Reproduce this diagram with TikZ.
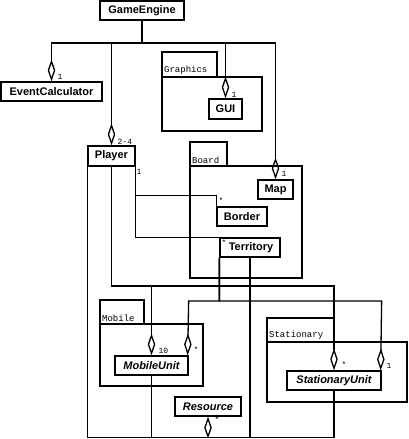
\documentclass[tikz,border=0pt]{standalone}
\usepackage{fontspec}
\setsansfont{Liberation Sans}
\setmonofont{Liberation Mono}
\usetikzlibrary{arrows.meta}
\begin{document}
\begin{tikzpicture}[x=1pt,y=-1pt,line width=1.3pt,
  cls/.style={draw,fill=white,inner sep=0pt,minimum height=19pt,font=\sffamily\bfseries\fontsize{11}{12}\selectfont},
  abstractcls/.style={cls,font=\sffamily\bfseries\itshape\fontsize{11}{12}\selectfont},
  pkgname/.style={anchor=south west,inner sep=1.5pt,font=\ttfamily\fontsize{9}{10}\selectfont},
  mult/.style={inner sep=0pt,font=\ttfamily\fontsize{8}{9}\selectfont},
  agg/.style={-{Diamond[open,length=22pt,width=7.5pt]}}]
\useasboundingbox (0,0) rectangle (408,439);
\draw (162,52) rectangle (217,77) (162,77) rectangle (262,131);
\node[pkgname] (graphicsname) at (162,77) {Graphics};
\draw (190,142) rectangle (227,166) (190,166) rectangle (302,278);
\node[pkgname] (boardname) at (190,166) {Board};
\draw (100,300) rectangle (144,324) (100,324) rectangle (203,386);
\node[pkgname] (mobilename) at (100,324) {Mobile};
\draw (267,318) rectangle (334,342) (267,342) rectangle (407,402);
\node[pkgname] (stationaryname) at (267,342) {Stationary};
\node[cls,minimum width=84pt] (ge) at (142,10.5) {GameEngine};
\node[cls,minimum width=101pt] (ec) at (51.5,91.5) {EventCalculator};
\node[cls,minimum width=47pt,minimum height=20pt] (player) at (111.5,156) {Player};
\node[cls,minimum width=33pt,minimum height=20pt] (gui) at (225.5,109) {GUI};
\node[cls,minimum width=35pt] (map) at (275.5,189.5) {Map};
\node[cls,minimum width=50pt] (border) at (242,216.5) {Border};
\node[cls,minimum width=60pt] (territory) at (250,247.5) {\hspace{2pt}Territory};
\node[abstractcls,minimum width=73pt] (mu) at (151.5,365.5) {MobileUnit};
\node[abstractcls,minimum width=66pt] (res) at (208,406.5) {Resource};
\node[abstractcls,minimum width=94pt] (su) at (334,380.5) {StationaryUnit};
\coordinate (gebus) at (142,43);
\draw (ge.south) -- (gebus);
\draw[agg] (gebus) -| (ec.north);
\draw[agg] (gebus) -| (player.north);
\draw[agg] (gebus) -| (gui.north);
\draw[agg] (gebus) -| (map.north);
\draw (player.south east) |- ([yshift=11pt]border.north west) -- (border.north west);
\draw (player.south east) |- (territory.north west);
\draw[agg] (player.south) |- (su.north |- 0,286) -- (su.north);
\draw[agg] (mu.north |- 0,286) -- (mu.north);
\draw[agg] (territory.south west) |- (mu.north east |- 0,301) -- ([xshift=-1pt]mu.north east);
\draw[agg] (territory.south west) |- (su.north east |- 0,301) -- ([xshift=-1pt]su.north east);
\draw (player.south west) |- (su.south |- 0,437.5) -- (su.south);
\draw (mu.south) -- (mu.south |- 0,437.5);
\draw (territory.south) -- (territory.south |- 0,437.5);
\draw[agg] (res.south |- 0,437.5) -- (res.south);
\node[mult,anchor=west] (m1) at (57,77) {1};
\node[mult,anchor=west] (m2) at (117,142) {2-4};
\node[mult,anchor=west] (m3) at (231,95) {1};
\node[mult,anchor=west] (m4) at (281,174) {1};
\node[mult,anchor=west] (m5) at (136,172) {1};
\node[mult,anchor=west] (m6) at (218,201) {*};
\node[mult,anchor=west] (m7) at (221,243) {*};
\node[mult,anchor=west] (m8) at (158,351) {10};
\node[mult,anchor=west] (m9) at (193,350) {*};
\node[mult,anchor=west] (m10) at (214,420) {*};
\node[mult,anchor=west] (m11) at (341,365) {*};
\node[mult,anchor=west] (m12) at (386,366) {1};
\end{tikzpicture}
\end{document}
